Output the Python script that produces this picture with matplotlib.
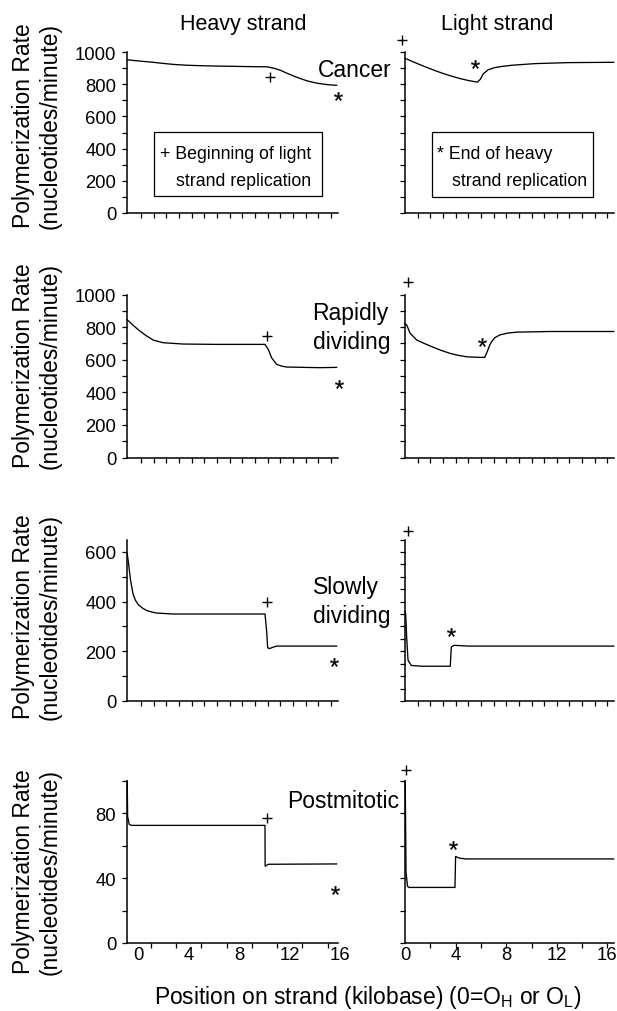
import matplotlib.pyplot as plt
from matplotlib.patches import Rectangle
import numpy as np

W, H = 617, 1012

plt.rcParams["font.family"] = ["Liberation Sans", "DejaVu Sans"]
plt.rcParams["mathtext.fontset"] = "custom"
plt.rcParams["mathtext.rm"] = "Liberation Sans"
plt.rcParams["mathtext.it"] = "Liberation Sans:italic"
plt.rcParams["mathtext.default"] = "regular"

ROWS = ["Cancer", "Rapidly\ndividing", "Slowly\ndividing", "Postmitotic"]
COLUMNS = ["Heavy strand", "Light strand"]

# heavy strand curves (kilobase, nucleotides/minute)
cancer_heavy_x = [-0.85, -0.3, 0.5, 1.2, 2.0, 2.8, 3.8, 4.9, 6.0, 7.5, 9.0, 10.2,
                  10.8, 11.3, 11.75, 12.3, 12.8, 13.4, 14.1, 14.8, 15.3, 15.7]
cancer_heavy_y = [952, 947, 941, 936, 929, 923, 918, 915, 913, 911, 909, 908,
                  898, 885, 869, 851, 836, 820, 807, 799, 795, 793]
rapid_heavy_x = [-0.85, -0.37, 0.16, 0.69, 1.21, 2.0, 3.6, 6.2, 10.04, 10.3,
                 10.56, 10.96, 11.4, 11.75, 14.4, 15.7]
rapid_heavy_y = [845, 810, 775, 745, 720, 704, 696, 694, 694, 663,
                 612, 571, 560, 555, 551, 553]
slow_heavy_x = [-0.85, -0.75, -0.6, -0.4, -0.2, 0.02, 0.35, 0.69, 1.1, 1.48, 2.8,
                10.04, 10.17, 10.25, 10.4, 10.7, 10.96, 15.7]
slow_heavy_y = [592, 555, 490, 432, 405, 388, 374, 364, 358, 354, 350,
                350, 281, 214, 211, 217, 221, 221]
post_heavy_x = [-0.85, -0.82, -0.69, -0.5, 10.04, 10.05, 10.3, 15.7]
post_heavy_y = [100, 78, 73.2, 72.6, 72.6, 47.4, 48.6, 48.8]

# light strand curves
cancer_light_x = [0, 0.5, 1.04, 1.7, 2.36, 3.0, 3.68, 4.3, 5.0, 5.5, 5.73, 5.96,
                  6.18, 6.58, 7.1, 7.63, 8.5, 10.3, 12.9, 16.5]
cancer_light_y = [961, 944, 926, 905, 885, 867, 850, 836, 823, 816, 813, 831,
                  864, 890, 903, 910, 918, 928, 934, 936]
rapid_light_x = [0, 0.13, 0.4, 0.92, 1.6, 2.24, 2.9, 3.56, 4.2, 4.87, 5.6, 6.3,
                 6.5, 6.7, 6.85, 7.1, 7.5, 8.1, 8.8, 11.5, 16.5]
rapid_light_y = [820, 814, 763, 721, 697, 676, 656, 639, 627, 618, 615, 614,
                 649, 690, 711, 735, 752, 763, 769, 773, 773]
slow_light_x = [0, 0.05, 0.13, 0.24, 0.5, 1.3, 3.58, 3.66, 3.9, 5.0, 16.5]
slow_light_y = [360, 352, 258, 164, 143, 140, 140, 218, 224, 221, 221]
post_light_x = [0, 0.02, 0.08, 0.2, 0.34, 3.95, 4.0, 4.3, 4.8, 16.5]
post_light_y = [100, 97.5, 44, 34.9, 34.3, 34.3, 53.4, 52.4, 51.9, 51.9]

heavy_x = [cancer_heavy_x, rapid_heavy_x, slow_heavy_x, post_heavy_x]
heavy_y = [cancer_heavy_y, rapid_heavy_y, slow_heavy_y, post_heavy_y]
light_x = [cancer_light_x, rapid_light_x, slow_light_x, post_light_x]
light_y = [cancer_light_y, rapid_light_y, slow_light_y, post_light_y]

# + = beginning of light strand replication, * = end of heavy strand replication
plus_heavy_x = [10.4, 10.17, 10.17, 10.17]
plus_heavy_y = [844, 745, 398, 77.3]
star_heavy_x = [15.8, 15.9, 15.5, 15.57]
star_heavy_y = [726, 453, 157, 32.5]
plus_light_x = [-0.2, 0.2, 0.24, 0.08]
plus_light_y = [1076, 1076, 685, 106.8]
star_light_x = [5.57, 6.09, 3.6, 3.76]
star_light_y = [926, 711, 278, 60.6]

y_max = [1000, 1000, 650, 100]
y_labels = [[0, 200, 400, 600, 800, 1000], [0, 200, 400, 600, 800, 1000],
            [0, 200, 400, 600], [0, 40, 80]]
y_minor_left = [100, 100, 100, 20]
y_step_right = [100, 100, 50, 20]
x_labels = [0, 4, 8, 12, 16]

# layout (pixels)
row_bottom = [214, 458.5, 702, 944]
row_height = [161, 163, 161.5, 162]
KB = 12.65
HEAVY_LIM = (-0.85, 16.1)
HEAVY_END = 15.8
LIGHT_LIM = (0, 16.5)
heavy_left = 138 + HEAVY_LIM[0] * KB
light_left = 405


def fx(x):
    return x / W


def fy(y):
    return 1 - y / H


fig = plt.figure(figsize=(W / 100, H / 100), dpi=100)

for i in range(4):
    bottom = fy(row_bottom[i])
    axH = fig.add_axes([fx(heavy_left), bottom,
                        (HEAVY_LIM[1] - HEAVY_LIM[0]) * KB / W, row_height[i] / H])
    axL = fig.add_axes([fx(light_left), bottom,
                        (LIGHT_LIM[1] - LIGHT_LIM[0]) * KB / W, row_height[i] / H])
    for ax, xs, ys, px_, py_, sx, sy, lim in [
        (axH, heavy_x[i], heavy_y[i], plus_heavy_x[i], plus_heavy_y[i],
         star_heavy_x[i], star_heavy_y[i], HEAVY_LIM),
        (axL, light_x[i], light_y[i], plus_light_x[i], plus_light_y[i],
         star_light_x[i], star_light_y[i], LIGHT_LIM),
    ]:
        ax.set_facecolor("none")
        ax.plot(xs, ys, color="k", lw=0.95, clip_on=False)
        ax.plot([px_], [py_], ls="none", marker="+", ms=6.5, mew=1.0,
                color="k", clip_on=False)
        ax.plot([sx], [sy], ls="none", marker="$*$", ms=6.2, mew=0.2,
                color="k", clip_on=False)
        ax.set_xlim(*lim)
        ax.set_ylim(0, y_max[i])
        for s in ["top", "right"]:
            ax.spines[s].set_visible(False)
        for s in ["left", "bottom"]:
            ax.spines[s].set_linewidth(1.1)
        ax.tick_params(which="both", direction="out", width=0.9, length=3.6,
                       labelsize=13.3)
        ax.tick_params(axis="y", which="both", pad=4.3)
        ax.xaxis.remove_overlapping_locs = False

    axH.spines["bottom"].set_bounds(HEAVY_LIM[0], HEAVY_END)

    # y ticks
    axH.set_yticks(y_labels[i])
    axH.set_yticks(np.arange(0, y_max[i] + 1, y_minor_left[i]), minor=True)
    axL.set_yticks(np.arange(0, y_max[i] + 1, y_step_right[i]))
    axL.set_yticklabels([])

    # x ticks
    if i < 3:
        axH.set_xticks([])
        axH.set_xticks(np.arange(0, 16) + 0.25, minor=True)
        axL.set_xticks([])
        axL.set_xticks(np.arange(1, 17), minor=True)
    else:
        for ax in (axH, axL):
            ax.set_xticks(x_labels)
            ax.tick_params(axis="x", which="major", length=0, pad=2.2)
        axH.set_xticks(np.arange(1, 16, 2), minor=True)
        axL.set_xticks(np.arange(2, 17, 2), minor=True)

# column titles
fig.text(fx(243), fy(30), COLUMNS[0], ha="center", va="baseline", fontsize=15.5)
fig.text(fx(497), fy(30), COLUMNS[1], ha="center", va="baseline", fontsize=15.5)

# row labels
fig.text(fx(392), fy(77.3), ROWS[0], ha="right", va="baseline", fontsize=16.5)
fig.text(fx(390), fy(328), ROWS[1], ha="right", va="center", ma="left",
         fontsize=16.5, linespacing=1.3)
fig.text(fx(390), fy(602), ROWS[2], ha="right", va="center", ma="left",
         fontsize=16.5, linespacing=1.3)
fig.text(fx(399.5), fy(808.3), ROWS[3], ha="right", va="baseline", fontsize=16.5)

# y labels
ylabel_center = [126, 366, 617, 872]
for yc in ylabel_center:
    fig.text(fx(37), fy(yc), "Polymerization Rate\n(nucleotides/minute)",
             rotation=90, ha="center", va="center", ma="center",
             fontsize=16.5, linespacing=1.2)

# x label
fig.text(fx(368), fy(1004), "Position on strand (kilobase) (0=O$_{H}$ or O$_{L}$)",
         ha="center", va="baseline", fontsize=16.5)

# key boxes
for (x0, y0, x1, y1) in [(154, 132.7, 322.3, 197.3), (432.3, 133.3, 593.3, 198.3)]:
    fig.add_artist(Rectangle((fx(x0), fy(y1)), (x1 - x0) / W, (y1 - y0) / H,
                             transform=fig.transFigure, fill=False,
                             edgecolor="k", lw=0.9))
fig.text(fx(160), fy(159.3), "+ Beginning of light", ha="left", va="baseline",
         fontsize=12.8)
fig.text(fx(175.7), fy(185.5), "strand replication", ha="left", va="baseline",
         fontsize=12.8)
fig.text(fx(436.7), fy(159.3), "* End of heavy", ha="left", va="baseline",
         fontsize=12.8)
fig.text(fx(452.5), fy(186), "strand replication", ha="left", va="baseline",
         fontsize=12.8)

fig.savefig("out.png", dpi=100)
